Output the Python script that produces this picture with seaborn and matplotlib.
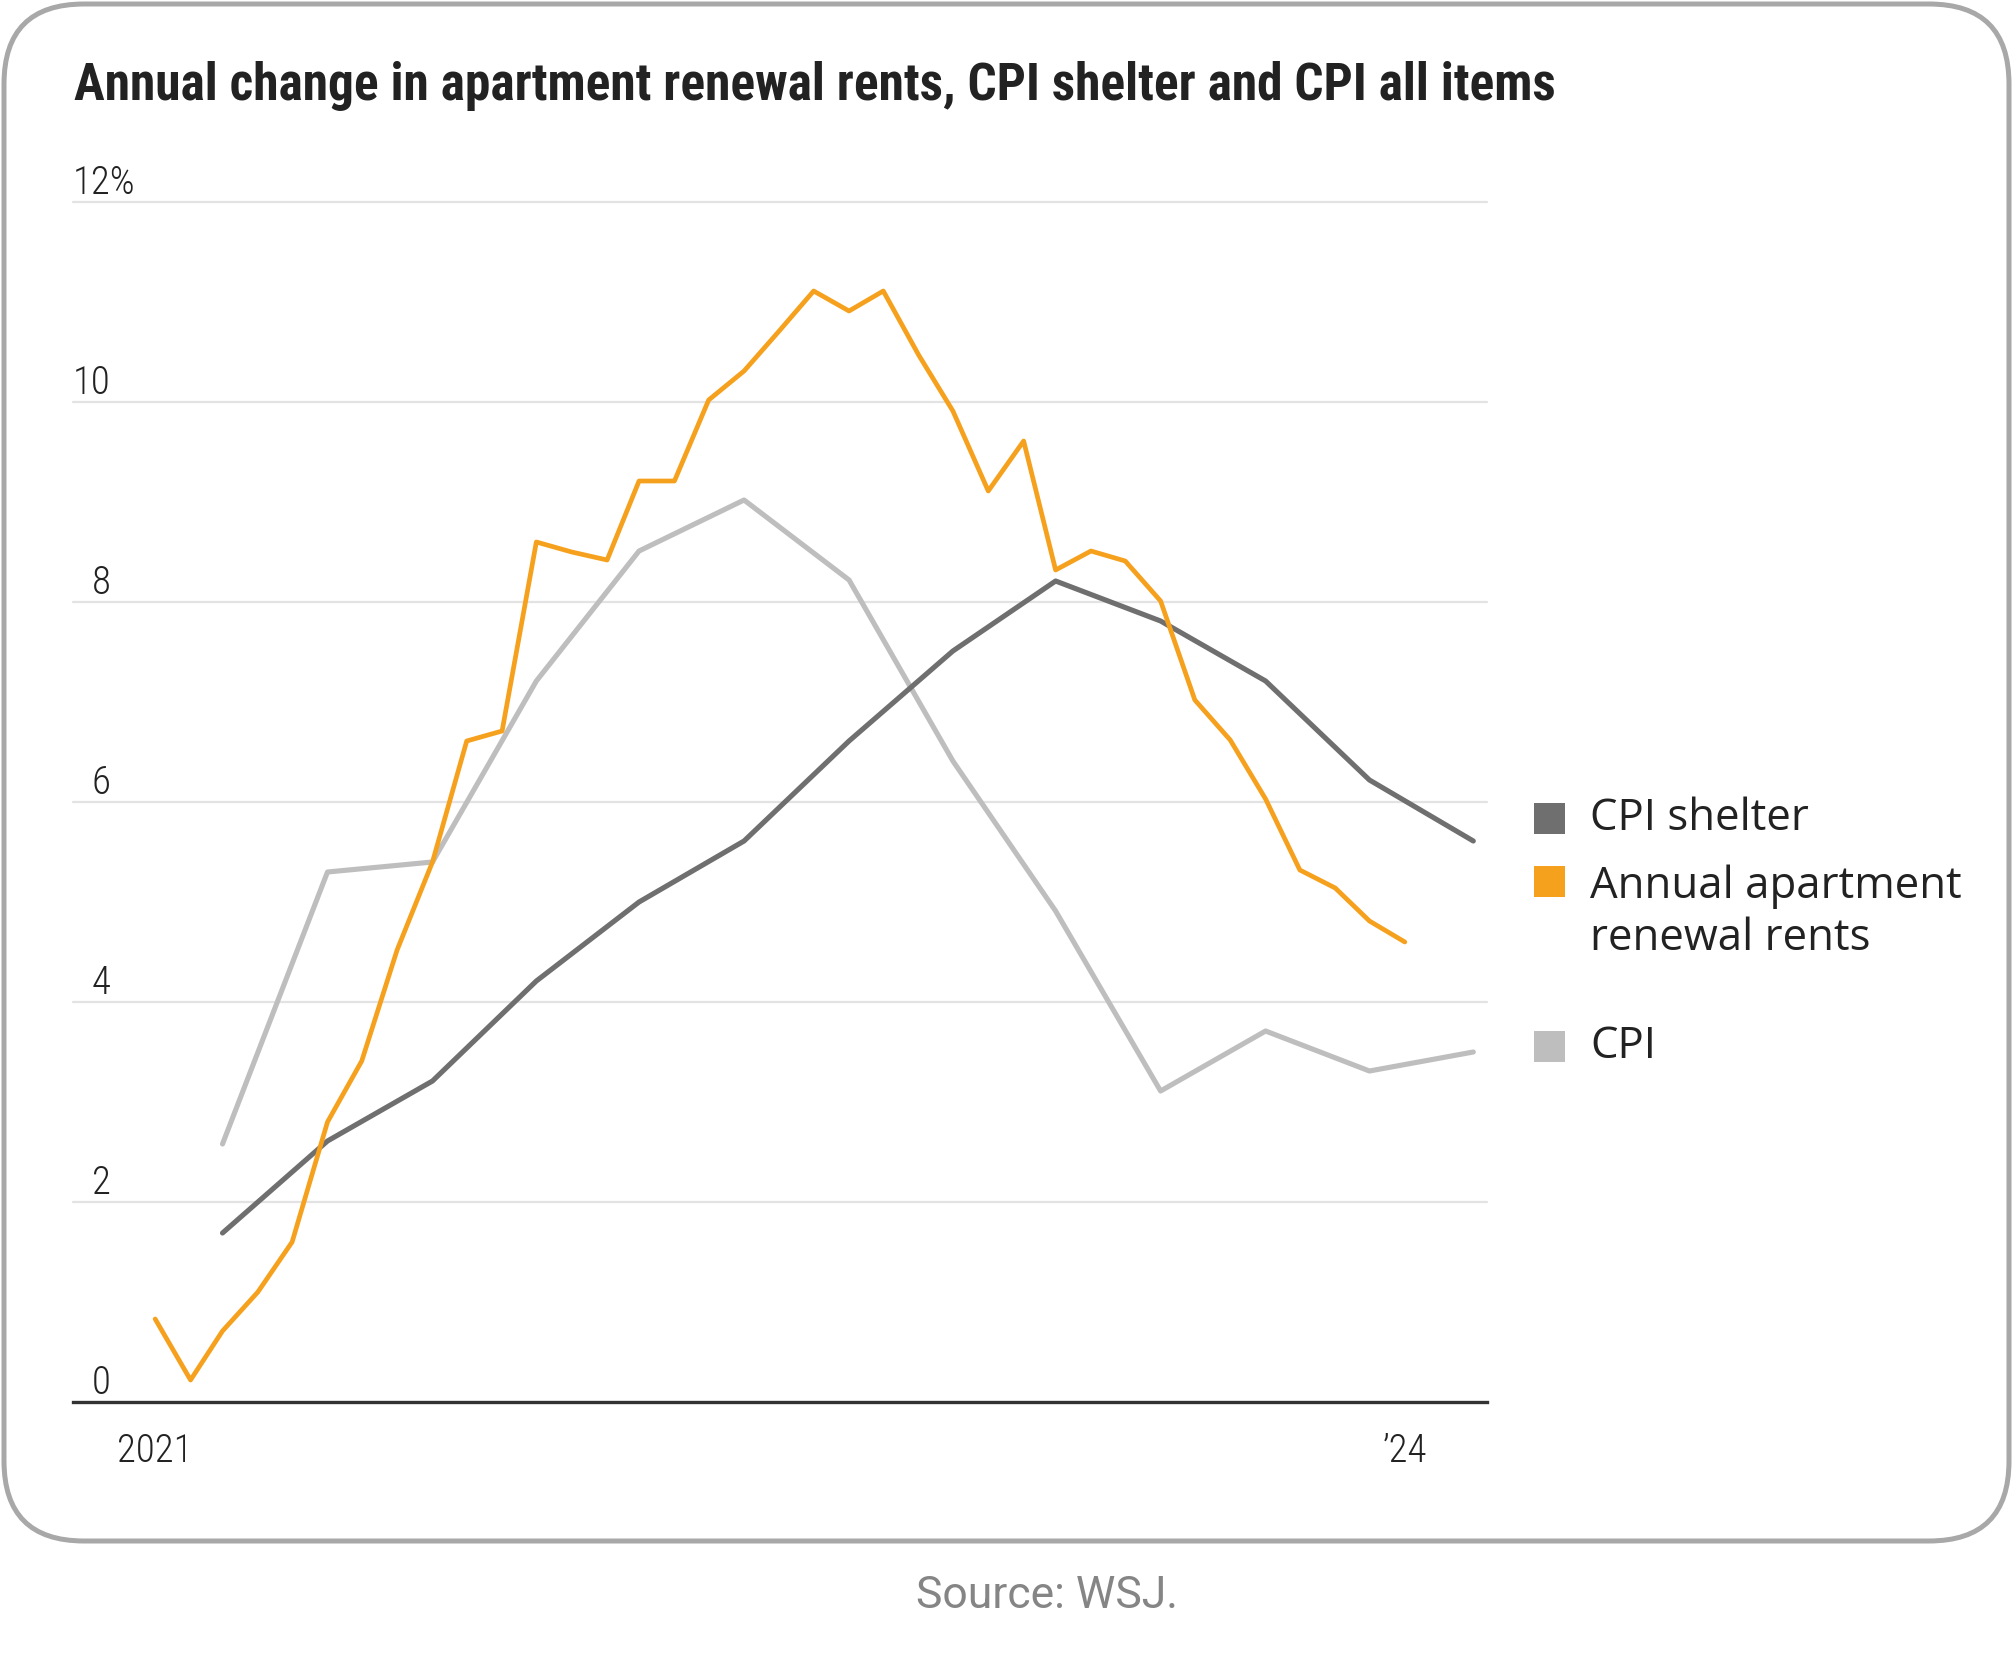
import matplotlib
matplotlib.use("Agg")
import matplotlib.pyplot as plt
import matplotlib.transforms as mtransforms
from matplotlib.patches import FancyBboxPatch, Rectangle
import seaborn as sns
import pandas as pd

# ---------------- data ----------------
rent_dates = pd.date_range("2021-01-01", "2024-01-01", freq="MS")
rent_values = [0.83, 0.22, 0.71, 1.10, 1.60, 2.80, 3.41, 4.52, 5.40, 6.61,
               6.71, 8.60, 8.50, 8.42, 9.21, 9.21, 10.02, 10.31, 10.70, 11.11,
               10.91, 11.11, 10.47, 9.91, 9.11, 9.61, 8.32, 8.51, 8.41, 8.01,
               7.02, 6.62, 6.03, 5.32, 5.14, 4.81, 4.60]
cpi_dates = pd.date_range("2021-03-01", "2024-03-01", freq="3MS")
shelter_values = [1.69, 2.61, 3.21, 4.21, 5.00, 5.61, 6.61, 7.51, 8.21, 7.81,
                  7.21, 6.22, 5.61]
cpi_values = [2.58, 5.30, 5.40, 7.21, 8.51, 9.02, 8.22, 6.41, 4.91, 3.11,
              3.71, 3.31, 3.50]
y_ticks = [0, 2, 4, 6, 8, 10, 12]
y_labels = ["0", "2", "4", "6", "8", "10", "12%"]
x_ticks = pd.to_datetime(["2021-01-01", "2022-01-01", "2023-01-01", "2024-01-01"])
x_labels = ["2021", "", "", "\u201924"]
legend_labels = ["CPI shelter", "Annual apartment\nrenewal rents", "CPI"]
title_text = "Annual change in apartment renewal rents, CPI shelter and CPI all items"
source_text = "Source: WSJ."

ORANGE = "#F6A11D"
DARK = "#6F6F6F"
LIGHT = "#BEBEBE"

sns.set_theme(style="white")
plt.rcParams["font.family"] = ["Open Sans", "DejaVu Sans"]
COND = ["Roboto Condensed", "DejaVu Sans"]
LEG = ["Open Sans", "DejaVu Sans"]
SRC = ["Roboto", "DejaVu Sans"]

W, H = 2013, 1654
fig = plt.figure(figsize=(W / 100, H / 100), dpi=100)
fig.patch.set_facecolor("white")

# rounded frame
frame = FancyBboxPatch((0.04, 1.13), 20.05, 15.37,
                       boxstyle="round,pad=0,rounding_size=0.8",
                       transform=fig.dpi_scale_trans, facecolor="none",
                       edgecolor="#A8A8A8", linewidth=3.6, zorder=0)
fig.patches.append(frame)

ax_left, ax_right, ax_top, ax_bot = 73, 1487, 202, 1402
ax = fig.add_axes([ax_left / W, 1 - ax_bot / H, (ax_right - ax_left) / W,
                   (ax_bot - ax_top) / H])
ax.set_facecolor("none")
ax.set_zorder(2)

df_rent = pd.DataFrame({"date": rent_dates, "value": rent_values})
df_shel = pd.DataFrame({"date": cpi_dates, "value": shelter_values})
df_cpi = pd.DataFrame({"date": cpi_dates, "value": cpi_values})

for yv in y_ticks[1:]:
    ax.axhline(yv, color="#E3E3E3", lw=1.6, zorder=1, clip_on=False)

sns.lineplot(data=df_cpi, x="date", y="value", ax=ax, color=LIGHT, lw=3.7, zorder=3)
sns.lineplot(data=df_shel, x="date", y="value", ax=ax, color=DARK, lw=3.7, zorder=4)
sns.lineplot(data=df_rent, x="date", y="value", ax=ax, color=ORANGE, lw=3.4, zorder=5)

ax.set_ylim(0, 12)
ax.set_xlim(pd.Timestamp("2020-10-21"), pd.Timestamp("2024-03-13"))
ax.set_xlabel("")
ax.set_ylabel("")
for s in ["top", "right", "left"]:
    ax.spines[s].set_visible(False)
ax.spines["bottom"].set_color("#333333")
ax.spines["bottom"].set_linewidth(2.4)
ax.spines["bottom"].set_zorder(6)
ax.set_yticks([])
ax.set_xticks(x_ticks)
ax.set_xticklabels(x_labels)
ax.tick_params(axis="x", direction="out", length=6, width=1.4, color="#333333",
               pad=16, labelsize=28, labelcolor="#222222")
for lbl in ax.get_xticklabels():
    lbl.set_fontfamily(COND)
    lbl.set_fontweight("light")

# y labels above gridlines
dy = 0.5 / 100
trans = mtransforms.blended_transform_factory(ax.transAxes, ax.transData)
off = mtransforms.ScaledTranslation(0, dy, fig.dpi_scale_trans)
renderer = fig.canvas.get_renderer()
probe = ax.text(0, 10, "10", transform=trans + off, ha="left", va="bottom",
                fontsize=28, color="#222222", family=COND, fontweight="light")
w10 = probe.get_window_extent(renderer).width
probe.remove()
for yv, lab in zip(y_ticks, y_labels):
    if len(lab) == 1:
        o2 = mtransforms.ScaledTranslation(w10 / 100, dy, fig.dpi_scale_trans)
        ax.text(0, yv, lab, transform=trans + o2, ha="right", va="bottom",
                fontsize=28, color="#222222", family=COND, fontweight="light")
    else:
        ax.text(0, yv, lab, transform=trans + off, ha="left", va="bottom",
                fontsize=28, color="#222222", family=COND, fontweight="light")

# title
t = fig.text(74 / W, 1 - 100 / H, title_text, ha="left", va="baseline",
             fontsize=33, fontweight="bold", color="#222222", family=COND)
tw = t.get_window_extent(renderer).width
t.set_fontsize(33 * 1482 / tw)

# legend (square top y, label, baseline of last line)
sq = 31
legend_items = [(DARK, 803, legend_labels[0], 830),
                (ORANGE, 866, legend_labels[1], 950),
                (LIGHT, 1031, legend_labels[2], 1058)]
for col, ytop, lab, base in legend_items:
    fig.patches.append(Rectangle((1534 / W, 1 - (ytop + sq) / H), sq / W, sq / H,
                                 transform=fig.transFigure, facecolor=col,
                                 edgecolor="none", zorder=3))
    fig.text(1590 / W, 1 - base / H, lab, ha="left", va="baseline",
             fontsize=31.5, color="#222222", linespacing=1.22, family=LEG)

fig.text(1047 / W, 1 - 1608 / H, source_text, ha="center", va="baseline",
         fontsize=32, color="#858585", family=SRC)

fig.savefig("out.png", dpi=100, facecolor="white")
